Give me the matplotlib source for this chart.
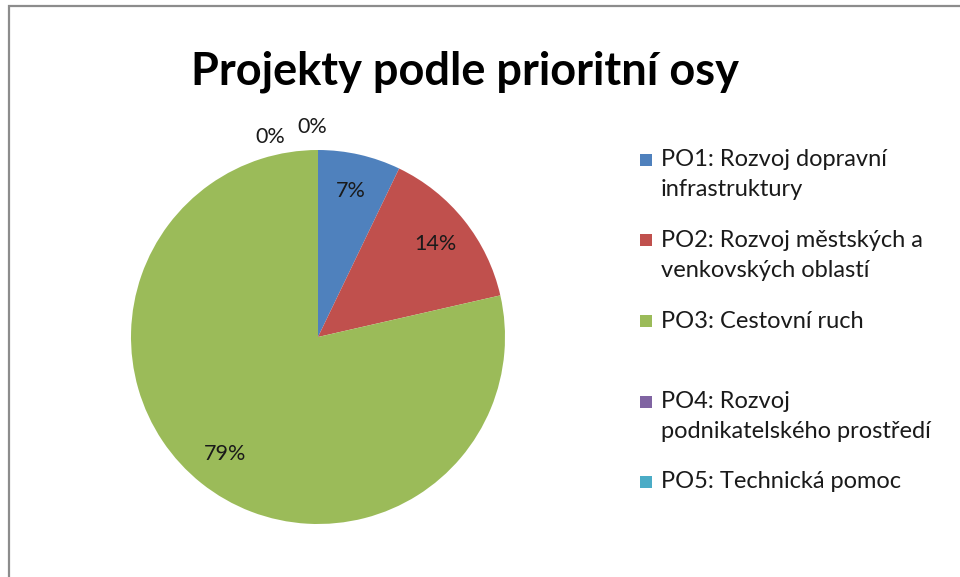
import matplotlib.pyplot as plt
from matplotlib.patches import Rectangle
import numpy as np

plt.rcParams['font.family'] = ['Lato', 'DejaVu Sans']

# data
kategorie = ["PO1: Rozvoj dopravní\ninfrastruktury",
             "PO2: Rozvoj městských a\nvenkovských oblastí",
             "PO3: Cestovní ruch",
             "PO4: Rozvoj\npodnikatelského prostředí",
             "PO5: Technická pomoc"]
pocty = [2, 4, 22, 0, 0]
barvy = ['#4F81BD', '#C0504D', '#9BBB59', '#8064A2', '#4BACC6']

W, H = 960, 577
fig = plt.figure(figsize=(W / 100, H / 100), dpi=100)

# ramecek grafu
fig.patches.append(Rectangle((9 / W, -0.1), 1.2, (H - 6) / H + 0.1,
                             transform=fig.transFigure, fill=False,
                             edgecolor='#8c8c8c', linewidth=1.6))

fig.text(465 / W, 1 - 72 / H, "Projekty podle prioritní osy",
         ha='center', va='center', fontsize=32.5, fontweight='bold')

cx, cy, r = 318, 337, 187
ax = fig.add_axes([(cx - r) / W, (H - cy - r) / H, 2 * r / W, 2 * r / H])
wedges, texts, autotexts = ax.pie(pocty, colors=barvy, startangle=90,
                                  counterclock=False, radius=1,
                                  autopct='%1.0f%%', pctdistance=0.8,
                                  textprops={'fontsize': 15.5, 'color': '#1a1a1a'},
                                  wedgeprops={'linewidth': 0})
ax.set_xlim(-1, 1)
ax.set_ylim(-1, 1)
ax.set_aspect('auto')
ax.axis('off')

# popisky nulovych hodnot nad vrcholem kolacu
nuly = [i for i, v in enumerate(pocty) if v == 0]
pozice = [(103.4, 1.10), (91.5, 1.125)]
for i, (uhel, rr) in zip(nuly, pozice):
    a = np.radians(uhel)
    autotexts[i].set_position((rr * np.cos(a), rr * np.sin(a)))

# legenda
for i, (lab, c) in enumerate(zip(kategorie, barvy)):
    y0 = 160 + i * 80.5
    fig.patches.append(Rectangle((640 / W, 1 - (y0 + 6) / H), 12 / W, 12 / H,
                                 transform=fig.transFigure, facecolor=c,
                                 edgecolor='none'))
    for j, radek in enumerate(lab.split('\n')):
        fig.text(661 / W, 1 - (y0 + j * 30) / H, radek, ha='left',
                 va='center', fontsize=17, color='#1a1a1a')

fig.savefig('out.png', dpi=100)
